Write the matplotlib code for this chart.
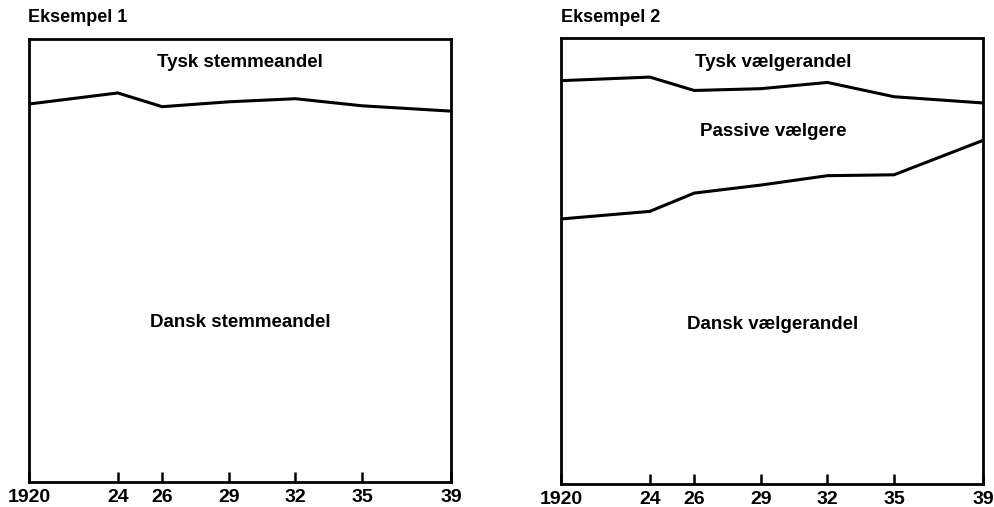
import numpy as np
import matplotlib
matplotlib.use('Agg')
import matplotlib.pyplot as plt

plt.rcParams['font.family'] = ['Liberation Sans', 'DejaVu Sans']
plt.rcParams['font.weight'] = 'bold'

years = [1920, 1924, 1926, 1929, 1932, 1935, 1939]
tick_labels = ['1920', '24', '26', '29', '32', '35', '39']

# Eksempel 1: dansk andel af afgivne stemmer (%)
dansk_stemmeandel = [85.3, 87.8, 84.7, 85.8, 86.5, 84.9, 83.7]

# Eksempel 2: andel af vaelgerne (%)
dansk_plus_passive = [90.4, 91.2, 88.2, 88.6, 90.0, 86.8, 85.4]
dansk_vaelgerandel = [59.4, 61.1, 65.2, 67.0, 69.1, 69.3, 77.0]

fig = plt.figure(figsize=(9.95, 5.07), dpi=100)
ax1 = fig.add_axes([0.0291, 0.0493, 0.424, 0.874])
ax2 = fig.add_axes([0.5638, 0.0454, 0.424, 0.880])


def style(ax):
    ax.set_xlim(1920, 1939)
    ax.set_ylim(0, 100)
    ax.set_xticks(years)
    ax.set_xticklabels(tick_labels, fontsize=14, fontweight='bold')
    ax.set_yticks([])
    ax.tick_params(axis='x', direction='in', length=7, width=1.8, pad=5)
    for s in ax.spines.values():
        s.set_linewidth(2)


ax1.plot(years, dansk_stemmeandel, color='black', lw=2.2)
style(ax1)
ax1.text(1929.5, 94.6, 'Tysk stemmeandel', ha='center', va='center', fontsize=13.5, fontweight='bold')
ax1.text(1929.5, 35.9, 'Dansk stemmeandel', ha='center', va='center', fontsize=13.5, fontweight='bold')
fig.text(0.028, 0.9645, 'Eksempel 1', ha='left', va='center', fontsize=13, fontweight='bold')

ax2.plot(years, dansk_plus_passive, color='black', lw=2.2)
ax2.plot(years, dansk_vaelgerandel, color='black', lw=2.2)
style(ax2)
ax2.text(1929.55, 94.4, 'Tysk vælgerandel', ha='center', va='center', fontsize=13.5, fontweight='bold')
ax2.text(1929.55, 79.1, 'Passive vælgere', ha='center', va='center', fontsize=13.5, fontweight='bold')
ax2.text(1929.55, 35.7, 'Dansk vælgerandel', ha='center', va='center', fontsize=13.5, fontweight='bold')
fig.text(0.564, 0.9645, 'Eksempel 2', ha='left', va='center', fontsize=13, fontweight='bold')

fig.savefig('out.png', dpi=100, facecolor='white')
